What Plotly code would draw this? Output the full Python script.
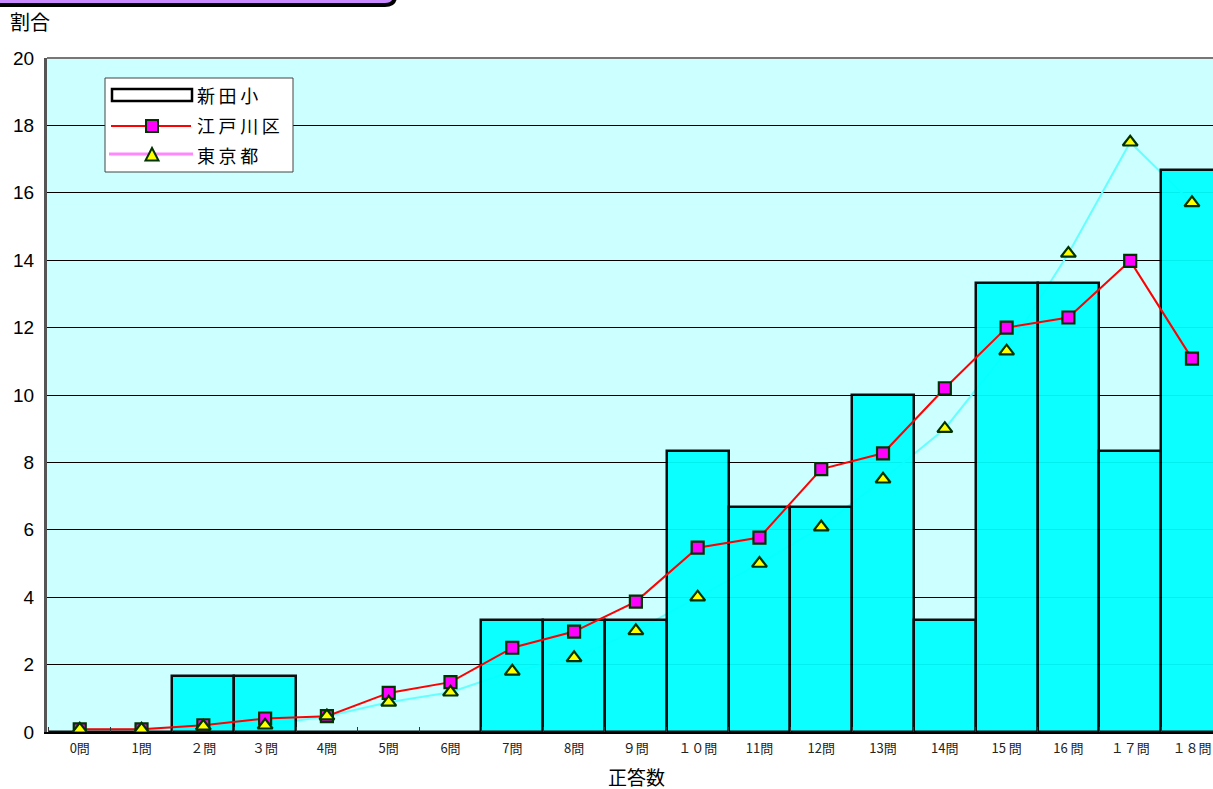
import plotly.graph_objects as go

# 正答数ごとの割合（％）
tick_labels = ["0問", "1問", "２問", "３問", "4問", "5問", "6問", "7問", "8問", "９問",
               "１０問", "11問", "12問", "13問", "14問", "15 問", "16 問", "１７問", "１８問"]
shinden = [0, 0, 1.67, 1.67, 0, 0, 0, 3.33, 3.33, 3.33,
           8.33, 6.67, 6.67, 10.0, 3.33, 13.33, 13.33, 8.33, 16.67]
edogawa = [0.08, 0.08, 0.2, 0.4, 0.47, 1.16, 1.48, 2.5, 2.98, 3.87,
           5.47, 5.77, 7.8, 8.27, 10.2, 12.0, 12.3, 13.98, 11.08]
tokyo = [0.08, 0.08, 0.17, 0.2, 0.47, 0.88, 1.18, 1.8, 2.2, 3.0,
         4.0, 5.0, 6.08, 7.5, 9.0, 11.3, 14.2, 17.5, 15.7]
series_names = ["新田小", "江戸川区", "東京都"]

W, H = 1213, 789
L, R, T, B = 47, 0, 58, 57
PW, PH = W - L - R, H - T - B


def px(x):
    return (x - L) / PW


def py(y):
    return (H - B - y) / PH


FONT = "Noto Sans CJK JP"
SPACED = "\u2009"

fig = go.Figure()

# 東京都の折れ線（一番下の層）
fig.add_trace(go.Scatter(x=tick_labels, y=tokyo, mode="lines",
                         line=dict(color="#66FFFF", width=2),
                         showlegend=False, hoverinfo="skip"))

# 新田小（棒グラフ、重ねた座標軸 x2/y2）
fig.add_trace(go.Bar(x=tick_labels, y=shinden, width=1.0, opacity=0.94,
                     marker=dict(color="#00FFFF", line=dict(color="black", width=2.5)),
                     xaxis="x2", yaxis="y2", showlegend=False, name=series_names[0]))

# 江戸川区（最前面 x3/y3）
fig.add_trace(go.Scatter(x=tick_labels, y=edogawa, mode="lines+markers",
                         line=dict(color="#FF0000", width=2),
                         marker=dict(symbol="square", size=12, color="#FF00FF",
                                     line=dict(color="#003300", width=2.2)),
                         xaxis="x3", yaxis="y3", showlegend=False, name=series_names[1]))

# 東京都のマーカー
fig.add_trace(go.Scatter(x=tick_labels, y=tokyo, mode="markers",
                         marker=dict(symbol="triangle-up", size=13, color="#FFFF00",
                                     line=dict(color="#003300", width=2.2)),
                         xaxis="x3", yaxis="y3", showlegend=False, name=series_names[2]))

xrange = [-0.53, 18.34]
overlay_x = dict(range=xrange, overlaying="x", visible=False, type="category",
                 categoryorder="array", categoryarray=tick_labels)
overlay_y = dict(range=[0, 20], overlaying="y", visible=False)

fig.update_layout(
    width=W, height=H,
    margin=dict(l=L, r=R, t=T, b=B),
    paper_bgcolor="white",
    plot_bgcolor="#CCFFFF",
    font=dict(family=FONT, color="black"),
    bargap=0,
    showlegend=False,
    xaxis=dict(range=xrange, type="category", categoryorder="array",
               categoryarray=tick_labels,
               tickfont=dict(size=13, family=FONT, color="#222222"),
               showgrid=False, zeroline=False,
               showline=True, linecolor="black", linewidth=2,
               ticks="inside", tickson="boundaries", ticklen=5, tickcolor="#333333",
               ticklabelstandoff=3, fixedrange=True),
    yaxis=dict(range=[0, 20], dtick=2, tickfont=dict(size=19, family="Liberation Sans"),
               showgrid=True, gridcolor="black", gridwidth=1, zeroline=False,
               showline=True, linecolor="#555555", linewidth=3, ticks="",
               ticklabelstandoff=6),
    xaxis2=overlay_x, yaxis2=overlay_y,
    xaxis3=overlay_x, yaxis3=overlay_y,
)

# 上端の枠線（灰色）
fig.add_shape(type="line", xref="paper", yref="paper", x0=0, x1=1, y0=1, y1=1,
              line=dict(color="#777777", width=2), layer="above")

# 表題枠（上部が切れている）
fig.add_shape(type="path", xref="paper", yref="paper",
              path=(f"M {px(-10)},{py(-20)} L {px(395)},{py(-20)} L {px(395)},{py(-4)} "
                    f"Q {px(395)},{py(5)} {px(385)},{py(5)} L {px(-10)},{py(5)} Z"),
              fillcolor="#C98BFF", line=dict(color="black", width=4))

# 凡例
fig.add_shape(type="rect", xref="paper", yref="paper",
              x0=px(105), x1=px(293), y0=py(172), y1=py(78),
              fillcolor="white", line=dict(color="#444444", width=1), layer="above")
# 新田小: 白抜きの長方形
fig.add_shape(type="rect", xref="paper", yref="paper",
              x0=px(112), x1=px(192), y0=py(101), y1=py(89),
              fillcolor="white", line=dict(color="black", width=2.5), layer="above")
# 江戸川区: 赤線と正方形
fig.add_shape(type="line", xref="paper", yref="paper",
              x0=px(111), x1=px(191), y0=py(126), y1=py(126),
              line=dict(color="#FF0000", width=2), layer="above")
fig.add_shape(type="rect", xref="paper", yref="paper",
              x0=px(146), x1=px(158), y0=py(132), y1=py(120),
              fillcolor="#FF00FF", line=dict(color="#003300", width=2), layer="above")
# 東京都: 桃色の線と三角形
fig.add_shape(type="line", xref="paper", yref="paper",
              x0=px(109), x1=px(193), y0=py(154), y1=py(154),
              line=dict(color="#FF88FF", width=3), layer="above")
fig.add_shape(type="path", xref="paper", yref="paper",
              path=(f"M {px(145.5)},{py(160.5)} L {px(158.5)},{py(160.5)} "
                    f"L {px(152)},{py(148)} Z"),
              fillcolor="#FFFF00", line=dict(color="#003300", width=2), layer="above")

legend_rows = [95, 125, 155]
for name, row_y in zip(series_names, legend_rows):
    fig.add_annotation(text=SPACED.join(name), xref="paper", yref="paper",
                       x=px(195), y=py(row_y), xanchor="left", yanchor="middle",
                       showarrow=False, font=dict(size=18, family=FONT))

# 軸の見出し
fig.add_annotation(text="割合", xref="paper", yref="paper", x=px(8), y=py(21),
                   xanchor="left", yanchor="middle", showarrow=False,
                   font=dict(size=20, family=FONT))
fig.add_annotation(text="正答数", xref="paper", yref="paper", x=px(636), y=py(776),
                   xanchor="center", yanchor="middle", showarrow=False,
                   font=dict(size=19, family=FONT))

fig.write_html("out.html")
